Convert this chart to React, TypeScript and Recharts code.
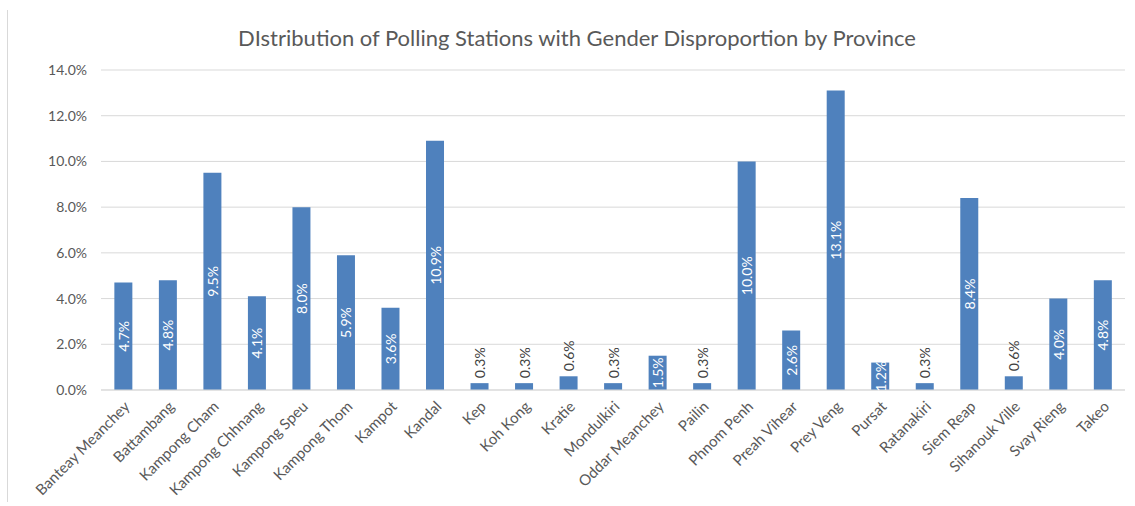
import { BarChart, Bar, XAxis, YAxis, CartesianGrid, LabelList } from "recharts";

const provinces = [
  "Banteay Meanchey",
  "Battambang",
  "Kampong Cham",
  "Kampong Chhnang",
  "Kampong Speu",
  "Kampong Thom",
  "Kampot",
  "Kandal",
  "Kep",
  "Koh Kong",
  "Kratie",
  "Mondulkiri",
  "Oddar Meanchey",
  "Pailin",
  "Phnom Penh",
  "Preah Vihear",
  "Prey Veng",
  "Pursat",
  "Ratanakiri",
  "Siem Reap",
  "Sihanouk Ville",
  "Svay Rieng",
  "Takeo",
];

// share of polling stations, in percent
const shares = [
  4.7, 4.8, 9.5, 4.1, 8.0, 5.9, 3.6, 10.9, 0.3, 0.3, 0.6, 0.3, 1.5, 0.3, 10.0,
  2.6, 13.1, 1.2, 0.3, 8.4, 0.6, 4.0, 4.8,
];

const yTicks = [0, 2, 4, 6, 8, 10, 12, 14];

const data = provinces.map((name, i) => ({ name, share: shares[i] }));

const FONT = "Lato, 'Open Sans', sans-serif";
const TEXT = "#595959";

function BarValue(props: any) {
  const { x, y, width, height, value } = props;
  const cx = x + width / 2;
  const label = `${Number(value).toFixed(1)}%`;
  if (value < 1) {
    // too small to fit: put it above the bar
    const ty = y - 5;
    return (
      <text
        x={cx}
        y={ty}
        transform={`rotate(-90, ${cx}, ${ty})`}
        textAnchor="start"
        dominantBaseline="central"
        fill="#404040"
        fontSize={14}
        fontFamily={FONT}
      >
        {label}
      </text>
    );
  }
  const cy = y + height / 2;
  return (
    <text
      x={cx}
      y={cy}
      transform={`rotate(-90, ${cx}, ${cy})`}
      textAnchor="middle"
      dominantBaseline="central"
      fill="#ffffff"
      fontSize={14}
      fontFamily={FONT}
    >
      {label}
    </text>
  );
}

export default function App() {
  return (
    <div
      style={{
        position: "absolute",
        left: 0,
        top: 0,
        width: 1135,
        height: 506,
        background: "#ffffff",
        fontFamily: FONT,
      }}
    >
      <div
        style={{
          position: "absolute",
          left: 7,
          top: 10,
          height: 492,
          borderLeft: "1px solid #d9d9d9",
        }}
      />
      <div
        style={{
          position: "absolute",
          left: 7,
          width: 1140,
          top: 27,
          textAlign: "center",
          fontSize: 22,
          lineHeight: "22px",
          color: TEXT,
        }}
      >
        DIstribution of Polling Stations with Gender Disproportion by Province
      </div>
      <BarChart
        width={1135}
        height={506}
        data={data}
        margin={{ top: 70, right: 10, bottom: 0, left: 0 }}
        barCategoryGap="30%"
      >
        <CartesianGrid vertical={false} stroke="#d9d9d9" />
        <XAxis
          dataKey="name"
          interval={0}
          axisLine={{ stroke: "#d9d9d9" }}
          tickLine={false}
          angle={-45}
          textAnchor="end"
          height={116}
          tickMargin={4}
          tick={{ fontSize: 15, fill: TEXT, fontFamily: FONT }}
        />
        <YAxis
          width={101}
          domain={[0, 14]}
          ticks={yTicks}
          axisLine={false}
          tickLine={false}
          tickMargin={8}
          tickFormatter={(v) => `${Number(v).toFixed(1)}%`}
          tick={{ fontSize: 14, fill: TEXT, fontFamily: FONT }}
        />
        <Bar dataKey="share" fill="#4f81bd" isAnimationActive={false}>
          <LabelList dataKey="share" content={BarValue} />
        </Bar>
      </BarChart>
    </div>
  );
}
